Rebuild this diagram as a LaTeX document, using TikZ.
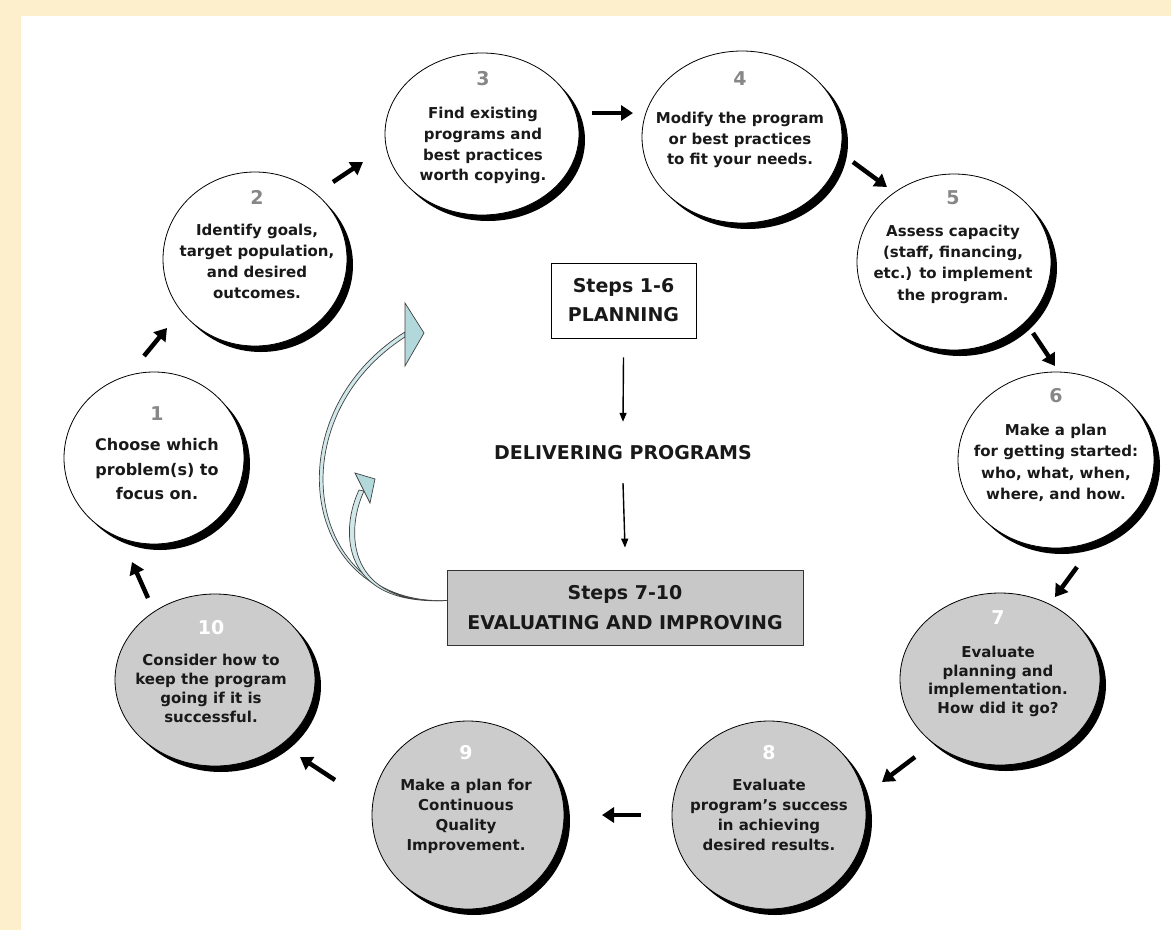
\documentclass[tikz,border=0pt]{standalone}
\usepackage{fontspec}
\setmainfont{DejaVu Sans}
\usetikzlibrary{shapes.geometric,arrows.meta,shadows}
\definecolor{beige}{RGB}{253,238,204}
\definecolor{numgray}{RGB}{135,135,135}
\definecolor{cgray}{RGB}{204,204,204}
\definecolor{boxgray}{RGB}{200,200,200}
\definecolor{tealfill}{RGB}{178,216,220}
\definecolor{txt}{RGB}{25,25,25}
\newcommand\gnum[1]{{\color{numgray}\fontsize{19}{19}\selectfont #1}}
\newcommand\wnum[1]{{\color{white}\fontsize{19}{19}\selectfont #1}}
\begin{document}
\begin{tikzpicture}[x=1pt,y=-1pt,
  stepcircle/.style={ellipse, draw=black, line width=0.8pt, inner sep=0pt,
    drop shadow={shadow xshift=6pt, shadow yshift=-6pt, fill=black, opacity=1}},
  whitec/.style={stepcircle, fill=white},
  grayc/.style={stepcircle, fill=cgray},
  steptext/.style={align=center, inner sep=0pt, text=txt, anchor=north},
  bigarrow/.style={line width=4.5pt, -{Triangle[width=15pt,length=12pt]}},
  thinarrow/.style={line width=1.4pt, -{Triangle[width=7pt,length=9pt]}},
  ribbon/.style={fill=tealfill!60, draw=black!75, line width=0.7pt},
  headstyle/.style={fill=tealfill, draw=black!75, line width=0.7pt},
  boxtext/.style={align=center, text=txt}
]
\useasboundingbox (0,0) rectangle (1171,930);
\fill[beige] (0,0) rectangle (1171,930);
\fill[white] (21,16) rectangle (1171,930);

% circles
\node[whitec, minimum width=180, minimum height=172] (c1) at (154,458) {};
\node[whitec, minimum width=184, minimum height=174] (c2) at (255,259) {};
\node[whitec, minimum width=194, minimum height=162] (c3) at (482,134) {};
\node[whitec, minimum width=200, minimum height=172] (c4) at (742,137) {};
\node[whitec, minimum width=194, minimum height=176] (c5) at (954,262) {};
\node[whitec, minimum width=196, minimum height=176] (c6) at (1056,460) {};
\node[grayc, minimum width=200, minimum height=172] (c7) at (1000,679) {};
\node[grayc, minimum width=194, minimum height=188] (c8) at (769,815) {};
\node[grayc, minimum width=192, minimum height=188] (c9) at (468,815) {};
\node[grayc, minimum width=200, minimum height=172] (c10) at (215,680) {};

% texts
\node[steptext, font=\bfseries\fontsize{16}{24.5}\selectfont] (t1) at (157,406)
  {\gnum{1}\\[6pt]Choose which\\problem(s) to\\focus on.};
\node[steptext, font=\bfseries\fontsize{15}{21}\selectfont] (t2) at (257,190)
  {\gnum{2}\\[10.5pt]Identify goals,\\target population,\\and desired\\outcomes.};
\node[steptext, font=\bfseries\fontsize{15}{20.7}\selectfont] (t3) at (483,71)
  {\gnum{3}\\[12.8pt]Find existing\\programs and\\best practices\\worth copying.};
\node[steptext, font=\bfseries\fontsize{15}{20.5}\selectfont] (t4) at (740,71)
  {\gnum{4}\\[18pt]Modify the program\\or best practices\\to fit your needs.};
\node[steptext, font=\bfseries\fontsize{15}{21.3}\selectfont] (t5) at (953,190)
  {\gnum{5}\\[11pt]Assess capacity\\(staff, financing,\\etc.) to implement\\the program.};
\node[steptext, font=\bfseries\fontsize{15}{21.3}\selectfont] (t6) at (1056,388)
  {\gnum{6}\\[12pt]Make a plan\\for getting started:\\who, what, when,\\where, and how.};
\node[steptext, font=\bfseries\fontsize{15}{18.5}\selectfont] (t7) at (998,610)
  {\wnum{7}\\[15pt]Evaluate\\planning and\\implementation.\\How did it go?};
\node[steptext, font=\bfseries\fontsize{15}{20}\selectfont] (t8) at (769,745)
  {\wnum{8}\\[11.5pt]Evaluate\\program's success\\in achieving\\desired results.};
\node[steptext, font=\bfseries\fontsize{15}{20}\selectfont] (t9) at (466,745)
  {\wnum{9}\\[11.5pt]Make a plan for\\Continuous\\Quality\\Improvement.};
\node[steptext, font=\bfseries\fontsize{15}{19}\selectfont] (t10) at (211,620)
  {\wnum{10}\\[12.5pt]Consider how to\\keep the program\\going if it is\\successful.};

% cycle arrows
\coordinate (a1s) at (148,598); \coordinate (a1e) at (132,562);
\coordinate (a2s) at (144,356); \coordinate (a2e) at (167,328);
\coordinate (a3s) at (333,182); \coordinate (a3e) at (363,162);
\coordinate (a4s) at (592,113); \coordinate (a4e) at (633,113);
\coordinate (a5s) at (853,162); \coordinate (a5e) at (887,187);
\coordinate (a6s) at (1033,333); \coordinate (a6e) at (1055,366);
\coordinate (a7s) at (1077,567); \coordinate (a7e) at (1055,597);
\coordinate (a8s) at (915,757); \coordinate (a8e) at (882,782);
\coordinate (a9s) at (641,815); \coordinate (a9e) at (602,815);
\coordinate (a10s) at (335,780); \coordinate (a10e) at (300,757);
\foreach \i in {1,...,10} \draw[bigarrow] (a\i s) -- (a\i e);

% centre column
\node[draw=black, line width=0.8pt, fill=white, minimum width=145, minimum height=75,
  boxtext, font=\bfseries\fontsize{19}{29}\selectfont] (plan) at (623.5,300.5) {Steps 1-6\\PLANNING};
\node[boxtext, inner sep=0pt, minimum height=40, font=\bfseries\fontsize{19}{24}\selectfont] (deliv) at (623,453) {DELIVERING PROGRAMS};
\node[draw=black!80, line width=0.8pt, fill=boxgray, minimum width=356, minimum height=75,
  boxtext, font=\bfseries\fontsize{19}{30}\selectfont] (eval) at (625,607.5) {Steps 7-10\\EVALUATING AND IMPROVING};
\draw[thinarrow] ([yshift=-19pt]plan.south) -- ([yshift=11pt]deliv.north);
\draw[thinarrow] ([yshift=-10pt]deliv.south) -- ([yshift=22pt]eval.north);

% return arrows
\coordinate (rs) at ([yshift=7pt]eval.west);
\filldraw[ribbon] (rs) .. controls (300,608) and (272,415) .. (405,332)
   -- (405,337) .. controls (277,419) and (305,606) .. (rs) -- cycle;
\filldraw[headstyle] (405,303) -- (424,333) -- (405,366) -- cycle;
\filldraw[ribbon] (rs) .. controls (340,606) and (340,530) .. (359,490)
   -- (364,491) .. controls (345,532) and (347,605) .. (rs) -- cycle;
\filldraw[headstyle] (355,473) -- (375,479) -- (370,503) -- cycle;
\end{tikzpicture}
\end{document}
